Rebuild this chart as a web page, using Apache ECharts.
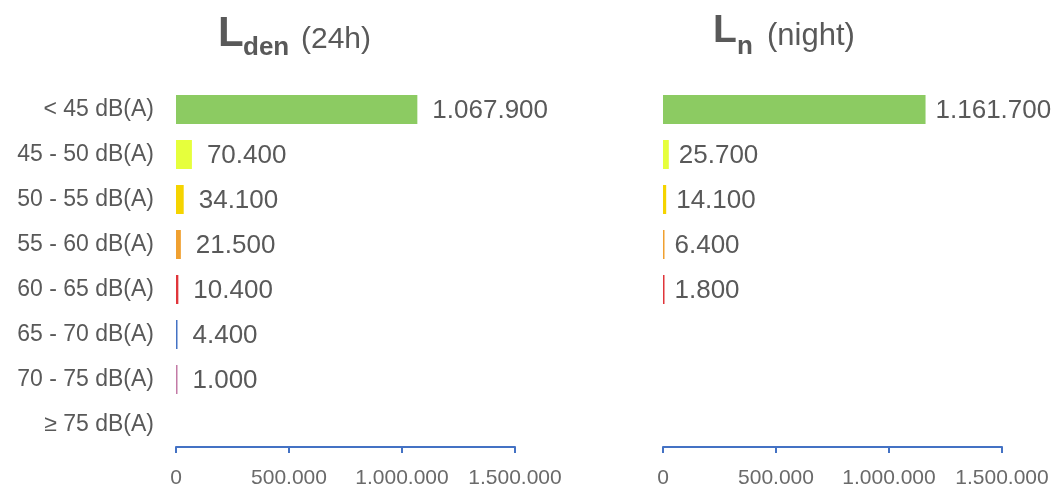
<!DOCTYPE html>
<html>
<head>
<meta charset="utf-8">
<script src="https://cdn.jsdelivr.net/npm/echarts@6/dist/echarts.min.js"></script>
<style>
html,body{margin:0;padding:0;background:#fff;}
#chart{width:1055px;height:486px;}
</style>
</head>
<body>
<div id="chart"></div>
<script>
var categories = ['< 45 dB(A)', '45 - 50 dB(A)', '50 - 55 dB(A)', '55 - 60 dB(A)', '60 - 65 dB(A)', '65 - 70 dB(A)', '70 - 75 dB(A)', '≥ 75 dB(A)'];
var ldenValues = [1067900, 70400, 34100, 21500, 10400, 4400, 1000, null];
var lnValues = [1161700, 25700, 14100, 6400, 1800, null, null, null];
var barColors = ['#8CCB62', '#E6FF3C', '#F5D400', '#F0A030', '#E0353A', '#4472C4', '#C37BA6', '#999999'];
var axisTicks = [0, 500000, 1000000, 1500000];

function fmt(v) {
  return String(Math.round(v)).replace(/\B(?=(\d{3})+(?!\d))/g, '.');
}
function toData(vals) {
  return vals.map(function (v, i) {
    return { value: v === null ? '-' : v, itemStyle: { color: barColors[i] } };
  });
}

var textColor = '#595959';
var axisColor = '#4472C4';
var ff = 'Liberation Sans, Arial, sans-serif';

function xAxisFor(idx) {
  return {
    type: 'value', gridIndex: idx,
    min: axisTicks[0], max: axisTicks[axisTicks.length - 1],
    interval: axisTicks[1] - axisTicks[0],
    axisLine: { show: true, lineStyle: { color: axisColor, width: 2 } },
    axisTick: { show: true, length: 6, lineStyle: { color: axisColor, width: 2 } },
    splitLine: { show: false },
    axisLabel: { margin: 21, color: '#6a6a6a', fontSize: 21, fontFamily: ff, formatter: fmt }
  };
}
function yAxisFor(idx, showLabels) {
  return {
    type: 'category', gridIndex: idx, data: categories, inverse: true,
    axisLine: { show: false }, axisTick: { show: false },
    axisLabel: { show: showLabels, margin: 22, color: textColor, fontSize: 23, fontFamily: ff, padding: [2, 0, 0, 0] }
  };
}
function barSeries(idx, vals, dist) {
  return {
    type: 'bar', xAxisIndex: idx, yAxisIndex: idx,
    data: toData(vals), barWidth: 29, barMinHeight: 1.5,
    label: { show: true, position: 'right', distance: dist, color: textColor, fontSize: 26,
      fontFamily: ff, offset: [0, 1],
      formatter: function (p) { return fmt(p.value); } }
  };
}

var chart = echarts.init(document.getElementById('chart'));
chart.setOption({
  animation: false,
  grid: [
    { left: 176, width: 339, top: 87, height: 360, outerBoundsMode: 'none', containLabel: false },
    { left: 663, width: 339, top: 87, height: 360, outerBoundsMode: 'none', containLabel: false }
  ],
  xAxis: [xAxisFor(0), xAxisFor(1)],
  yAxis: [yAxisFor(0, true), yAxisFor(1, false)],
  series: [barSeries(0, ldenValues, 15), barSeries(1, lnValues, 10)],
  graphic: [
    { type: 'text', style: { x: 218, y: 34, text: 'L', fill: textColor, font: 'bold 42px ' + ff, verticalAlign: 'middle' } },
    { type: 'text', style: { x: 243, y: 48, text: 'den', fill: textColor, font: 'bold 26px ' + ff, verticalAlign: 'middle' } },
    { type: 'text', style: { x: 301, y: 40, text: '(24h)', fill: textColor, font: '30px ' + ff, verticalAlign: 'middle' } },
    { type: 'text', style: { x: 713, y: 31, text: 'L', fill: textColor, font: 'bold 39px ' + ff, verticalAlign: 'middle' } },
    { type: 'text', style: { x: 737, y: 47, text: 'n', fill: textColor, font: 'bold 26px ' + ff, verticalAlign: 'middle' } },
    { type: 'text', style: { x: 767, y: 36, text: '(night)', fill: textColor, font: '31px ' + ff, verticalAlign: 'middle' } }
  ]
});
</script>
</body>
</html>
